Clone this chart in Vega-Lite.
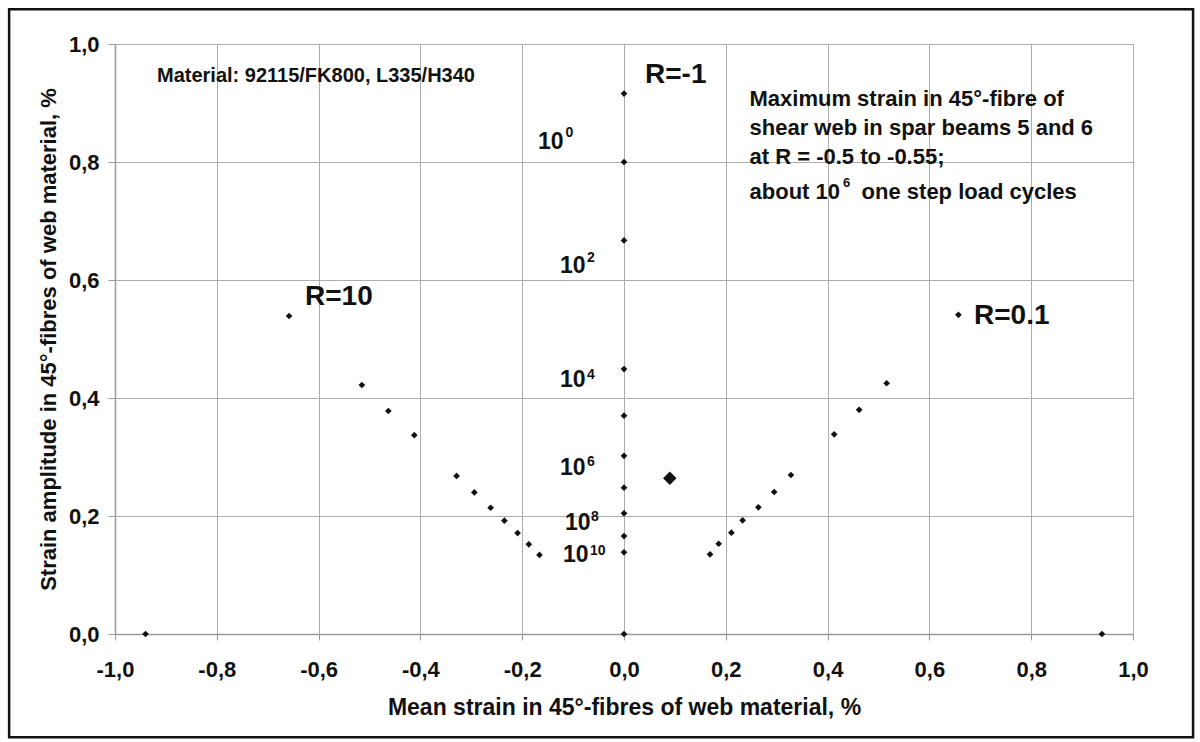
{
  "$schema": "https://vega.github.io/schema/vega-lite/v6.json",
  "width": 1018,
  "height": 590,
  "autosize": {"type": "none"},
  "padding": {"left": 115, "top": 44, "right": 67, "bottom": 108},
  "background": "white",
  "config": {
    "font": "Liberation Sans",
    "view": {"stroke": null},
    "axis": {
      "gridColor": "#adadad",
      "gridWidth": 1,
      "domainColor": "#9a9a9a",
      "domainWidth": 1.5,
      "tickColor": "#9a9a9a",
      "labelFont": "Liberation Sans",
      "labelFontSize": 22,
      "labelFontWeight": "bold",
      "labelColor": "#111111",
      "titleFont": "Liberation Sans",
      "titleFontWeight": "bold",
      "titleColor": "#111111"
    }
  },
  "encoding": {
    "x": {
      "field": "x",
      "type": "quantitative",
      "scale": {"domain": [-1, 1], "nice": false, "zero": false},
      "axis": {
        "values": [-1, -0.8, -0.6, -0.4, -0.2, 0, 0.2, 0.4, 0.6, 0.8, 1],
        "labelExpr": "replace(replace(format(datum.value, '.1f'), '.', ','), '\u2212', '-')",
        "tickSize": 6,
        "labelPadding": 19,
        "labelFlush": false,
        "title": "Mean strain in 45°-fibres of web material, %",
        "titleFontSize": 23,
        "titlePadding": 16
      }
    },
    "y": {
      "field": "y",
      "type": "quantitative",
      "scale": {"domain": [0, 1], "nice": false, "zero": false},
      "axis": {
        "values": [0, 0.2, 0.4, 0.6, 0.8, 1],
        "labelExpr": "replace(format(datum.value, '.1f'), '.', ',')",
        "tickSize": 7,
        "labelPadding": 9,
        "labelFlush": false,
        "title": "Strain amplitude in 45°-fibres of web material, %",
        "titleFontSize": 22,
        "titlePadding": 8
      }
    }
  },
  "layer": [
    {
      "data": {"values": [{"x": -1.208, "x2": 1.118, "y": 1.059, "y2": -0.175}]},
      "mark": {"type": "rect", "filled": false, "stroke": "#111111", "strokeWidth": 2.5, "clip": false},
      "encoding": {
        "x2": {"field": "x2"},
        "y2": {"field": "y2"}
      }
    },
    {
      "data": {
        "values": [
          {"series": "R=-1", "kind": "cycle", "x": 0, "y": 0.916},
          {"series": "R=-1", "kind": "cycle", "x": 0, "y": 0.8},
          {"series": "R=-1", "kind": "cycle", "x": 0, "y": 0.667},
          {"series": "R=-1", "kind": "cycle", "x": 0, "y": 0.449},
          {"series": "R=-1", "kind": "cycle", "x": 0, "y": 0.37},
          {"series": "R=-1", "kind": "cycle", "x": 0, "y": 0.302},
          {"series": "R=-1", "kind": "cycle", "x": 0, "y": 0.248},
          {"series": "R=-1", "kind": "cycle", "x": 0, "y": 0.2045},
          {"series": "R=-1", "kind": "cycle", "x": 0, "y": 0.166},
          {"series": "R=-1", "kind": "cycle", "x": 0, "y": 0.1385},
          {"series": "R=-1", "kind": "cycle", "x": 0, "y": 0},
          {"series": "R=10", "kind": "cycle", "x": -0.658, "y": 0.539},
          {"series": "R=10", "kind": "cycle", "x": -0.515, "y": 0.422},
          {"series": "R=10", "kind": "cycle", "x": -0.463, "y": 0.378},
          {"series": "R=10", "kind": "cycle", "x": -0.412, "y": 0.337},
          {"series": "R=10", "kind": "cycle", "x": -0.329, "y": 0.268},
          {"series": "R=10", "kind": "cycle", "x": -0.294, "y": 0.24},
          {"series": "R=10", "kind": "cycle", "x": -0.262, "y": 0.214},
          {"series": "R=10", "kind": "cycle", "x": -0.235, "y": 0.192},
          {"series": "R=10", "kind": "cycle", "x": -0.209, "y": 0.171},
          {"series": "R=10", "kind": "cycle", "x": -0.187, "y": 0.152},
          {"series": "R=10", "kind": "cycle", "x": -0.166, "y": 0.134},
          {"series": "R=10", "kind": "cycle", "x": -0.94, "y": 0},
          {"series": "R=0.1", "kind": "cycle", "x": 0.657, "y": 0.541},
          {"series": "R=0.1", "kind": "cycle", "x": 0.516, "y": 0.425},
          {"series": "R=0.1", "kind": "cycle", "x": 0.462, "y": 0.38},
          {"series": "R=0.1", "kind": "cycle", "x": 0.413, "y": 0.3385},
          {"series": "R=0.1", "kind": "cycle", "x": 0.328, "y": 0.2695},
          {"series": "R=0.1", "kind": "cycle", "x": 0.295, "y": 0.2407},
          {"series": "R=0.1", "kind": "cycle", "x": 0.264, "y": 0.2147},
          {"series": "R=0.1", "kind": "cycle", "x": 0.233, "y": 0.1927},
          {"series": "R=0.1", "kind": "cycle", "x": 0.211, "y": 0.1717},
          {"series": "R=0.1", "kind": "cycle", "x": 0.186, "y": 0.153},
          {"series": "R=0.1", "kind": "cycle", "x": 0.169, "y": 0.135},
          {"series": "R=0.1", "kind": "cycle", "x": 0.939, "y": 0},
          {"series": "spar beams 5 and 6", "kind": "design", "x": 0.09, "y": 0.264}
        ]
      },
      "mark": {"type": "point", "shape": "diamond", "filled": true, "color": "#111111", "opacity": 1},
      "encoding": {
        "size": {"field": "kind", "type": "nominal", "scale": {"domain": ["cycle", "design"], "range": [45, 180]}, "legend": null}
      }
    },
    {
      "data": {
        "values": [
          {"x": 0.0413, "y": 0.9475, "t": "R=-1"},
          {"x": -0.6267, "y": 0.5712, "t": "R=10"},
          {"x": 0.6876, "y": 0.539, "t": "R=0.1"}
        ]
      },
      "mark": {"type": "text", "align": "left", "baseline": "middle", "fontSize": 28, "fontWeight": "bold", "color": "#111111"},
      "encoding": {"text": {"field": "t"}}
    },
    {
      "data": {"values": [{"x": -0.9175, "y": 0.9453, "t": "Material: 92115/FK800, L335/H340"}]},
      "mark": {"type": "text", "align": "left", "baseline": "middle", "fontSize": 20, "fontWeight": "bold", "color": "#111111"},
      "encoding": {"text": {"field": "t"}}
    },
    {
      "data": {
        "values": [
          {"x": 0.2466, "y": 0.9073, "t": "Maximum strain in 45°-fibre of"},
          {"x": 0.2466, "y": 0.8576, "t": "shear web in spar beams 5 and 6"},
          {"x": 0.2466, "y": 0.808, "t": "at R = -0.5 to -0.55;"},
          {"x": 0.2466, "y": 0.7497, "t": "about 10"},
          {"x": 0.4668, "y": 0.7497, "t": "one step load cycles"}
        ]
      },
      "mark": {"type": "text", "align": "left", "baseline": "middle", "fontSize": 22, "fontWeight": "bold", "color": "#111111"},
      "encoding": {"text": {"field": "t"}}
    },
    {
      "data": {"values": [{"x": 0.4303, "y": 0.7639, "t": "6"}]},
      "mark": {"type": "text", "align": "left", "baseline": "middle", "fontSize": 13, "fontWeight": "bold", "color": "#111111"},
      "encoding": {"text": {"field": "t"}}
    },
    {
      "data": {
        "values": [
          {"x": -0.169, "y": 0.8347, "t": "10"},
          {"x": -0.1257, "y": 0.6229, "t": "10"},
          {"x": -0.1257, "y": 0.4297, "t": "10"},
          {"x": -0.1257, "y": 0.2822, "t": "10"},
          {"x": -0.1159, "y": 0.1873, "t": "10"},
          {"x": -0.1198, "y": 0.1331, "t": "10"}
        ]
      },
      "mark": {"type": "text", "align": "left", "baseline": "middle", "fontSize": 23, "fontWeight": "bold", "color": "#111111"},
      "encoding": {"text": {"field": "t"}}
    },
    {
      "data": {
        "values": [
          {"x": -0.115, "y": 0.85, "t": "0"},
          {"x": -0.0727, "y": 0.6373, "t": "2"},
          {"x": -0.0727, "y": 0.439, "t": "4"},
          {"x": -0.0727, "y": 0.2915, "t": "6"},
          {"x": -0.0648, "y": 0.1975, "t": "8"},
          {"x": -0.0668, "y": 0.1407, "t": "10"}
        ]
      },
      "mark": {"type": "text", "align": "left", "baseline": "middle", "fontSize": 14, "fontWeight": "bold", "color": "#111111"},
      "encoding": {"text": {"field": "t"}}
    }
  ]
}
